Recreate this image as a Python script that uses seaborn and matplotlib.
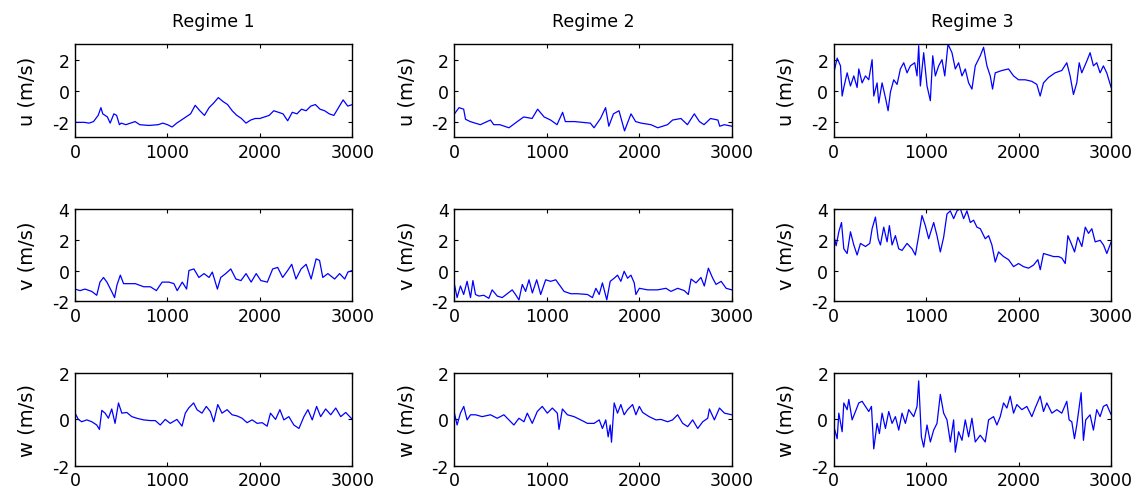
import numpy as np
import pandas as pd
import matplotlib
matplotlib.use("Agg")
import matplotlib.pyplot as plt
import seaborn as sns

regimes = ["Regime 1", "Regime 2", "Regime 3"]
components = ["u (m/s)", "v (m/s)", "w (m/s)"]
y_limits = [(-3, 3), (-2, 4), (-2, 2)]
y_ticks = [[-2, 0, 2], [-2, 0, 2, 4], [-2, 0, 2]]
x_ticks = [0, 1000, 2000, 3000]

# ---- u, regime 1
u1_t = [0, 100, 150, 200, 250, 280, 300, 350, 380, 400, 420, 450, 480, 500, 550, 600, 650, 700, 800, 900, 950,
        1000, 1050, 1100, 1150, 1200, 1250, 1300, 1350, 1400, 1450, 1500, 1550, 1600, 1650, 1700, 1750, 1800,
        1850, 1900, 1950, 2000, 2050, 2100, 2150, 2200, 2250, 2300, 2350, 2400, 2450, 2500, 2550, 2600, 2650,
        2700, 2750, 2800, 2850, 2900, 2950, 3000]
u1_v = [-2.05, -2.05, -2.1, -2.0, -1.6, -1.1, -1.5, -1.7, -2.1, -1.8, -1.5, -1.6, -2.2, -2.1, -2.2, -2.1, -2.0,
        -2.2, -2.25, -2.2, -2.1, -2.2, -2.35, -2.1, -1.9, -1.7, -1.5, -0.95, -1.3, -1.6, -1.1, -0.8, -0.45,
        -0.7, -0.9, -1.3, -1.6, -1.8, -2.1, -1.9, -1.8, -1.8, -1.7, -1.6, -1.3, -1.4, -1.5, -1.95, -1.4, -1.5,
        -1.2, -1.3, -1.0, -0.9, -1.2, -1.3, -1.5, -1.6, -1.1, -0.6, -1.0, -0.9]

# ---- u, regime 2
u2_t = [0, 50, 100, 120, 170, 280, 390, 425, 490, 590, 680, 750, 840, 900, 970, 1040, 1110, 1170, 1200, 1300,
        1470, 1510, 1580, 1635, 1670, 1720, 1780, 1840, 1910, 1960, 2020, 2125, 2200, 2305, 2360, 2450, 2520,
        2595, 2650, 2700, 2770, 2850, 2870, 2920, 3000]
u2_v = [-1.5, -1.1, -1.2, -1.85, -2.0, -2.2, -1.9, -2.2, -2.2, -2.4, -2.0, -1.7, -1.8, -1.2, -1.7, -1.9, -2.2,
        -1.4, -2.0, -2.0, -2.1, -2.4, -1.8, -1.1, -2.3, -1.5, -1.3, -2.6, -1.5, -2.0, -2.1, -2.2, -2.4, -2.2,
        -1.9, -1.8, -2.2, -1.5, -2.0, -2.2, -1.8, -1.9, -2.3, -2.2, -2.3]

# ---- u, regime 3
u3_t = [0, 36, 72, 90, 108, 144, 180, 216, 252, 270, 306, 342, 378, 414, 432, 468, 486, 522, 558, 587, 612, 648,
        684, 720, 756, 792, 828, 875, 900, 918, 936, 972, 1008, 1044, 1070, 1098, 1134, 1170, 1200, 1235, 1278,
        1314, 1350, 1386, 1422, 1458, 1494, 1530, 1584, 1620, 1656, 1692, 1717, 1746, 1818, 1890, 1944, 1998,
        2070, 2142, 2196, 2232, 2268, 2322, 2394, 2466, 2520, 2556, 2592, 2628, 2654, 2682, 2736, 2772, 2808,
        2844, 2880, 2916, 2952, 3000]
u3_v = [1.15, 2.1, 1.6, -0.35, 0.2, 1.15, 0.3, 0.95, 0.2, 1.4, 0.5, 0.95, 0.7, 2.0, -0.35, 0.5, -0.8, 0.5,
        -0.45, -1.3, -0.1, 0.7, 0.4, 1.4, 1.8, 1.15, 1.6, 1.8, 0.95, 2.9, 0.3, 2.45, 0.3, -0.65, 2.25, 0.95, 1.6,
        2.0, 0.95, 3.0, 2.45, 1.4, 1.8, 0.95, 1.4, 0.5, 0.1, 1.6, 2.25, 2.8, 1.6, 0.95, 0.1, 1.15, 1.3, 1.4,
        0.95, 0.7, 0.7, 0.6, 0.4, -0.35, 0.5, 0.85, 1.15, 1.3, 1.8, 0.95, -0.25, 0.5, 1.8, 1.15, 1.9, 2.45, 1.6,
        1.8, 1.15, 1.6, 1.15, 0.2]

# ---- v, regime 1
v1_t = [0, 54, 108, 180, 235, 270, 308, 345, 400, 428, 453, 490, 525, 580, 652, 743, 815, 880, 942, 1015, 1070,
        1105, 1160, 1207, 1232, 1286, 1340, 1395, 1450, 1485, 1540, 1576, 1630, 1685, 1740, 1795, 1850, 1905,
        1960, 2010, 2080, 2138, 2192, 2246, 2300, 2344, 2390, 2445, 2500, 2554, 2608, 2645, 2680, 2735, 2808,
        2862, 2917, 2952, 3000]
v1_v = [-1.2, -1.3, -1.2, -1.35, -1.6, -0.75, -0.45, -0.75, -1.4, -1.75, -0.95, -0.3, -0.85, -0.85, -0.85,
        -1.05, -1.05, -1.3, -0.75, -0.75, -0.85, -1.3, -0.75, -1.2, 0.0, 0.1, -0.45, -0.2, -0.45, -0.1, -1.2,
        -0.45, -0.2, 0.1, -0.55, -0.65, -0.2, -0.75, -0.2, -0.65, -0.75, 0.1, 0.2, -0.45, 0.0, 0.4, -0.55, 0.1,
        0.4, -0.55, 0.75, 0.65, -0.45, -0.2, -0.55, -0.2, -0.55, -0.1, 0.0]

# ---- v, regime 2
v2_t = [0, 29, 65, 100, 137, 174, 200, 228, 264, 318, 372, 408, 463, 517, 571, 625, 661, 698, 734, 770, 807, 843,
        890, 933, 987, 1041, 1096, 1132, 1186, 1258, 1330, 1439, 1493, 1530, 1566, 1601, 1648, 1685, 1728, 1764,
        1800, 1836, 1873, 1909, 1945, 1963, 2000, 2090, 2198, 2288, 2342, 2415, 2487, 2530, 2560, 2613, 2667,
        2703, 2747, 2794, 2830, 2885, 2939, 3000]
v2_v = [-0.9, -1.75, -1.0, -1.55, -0.7, -1.75, -0.65, -1.55, -1.65, -1.6, -1.8, -1.25, -1.65, -1.75, -1.5,
        -1.25, -1.55, -1.9, -0.9, -1.35, -0.6, -1.45, -0.6, -1.55, -0.6, -0.7, -0.6, -0.9, -1.35, -1.5, -1.5,
        -1.55, -1.75, -1.15, -1.55, -0.8, -1.9, -0.7, -0.5, -0.3, -0.7, -0.05, -0.5, -0.3, -0.8, -1.55, -1.15,
        -1.25, -1.25, -1.15, -1.35, -1.15, -1.3, -1.55, -0.55, -0.8, -0.45, -1.0, 0.15, -0.5, -0.9, -0.7, -1.15,
        -1.25]

# ---- v, regime 3
v3_t = [0, 25, 54, 83, 108, 144, 180, 216, 252, 288, 342, 389, 414, 450, 480, 504, 540, 576, 601, 630, 666, 702,
        738, 792, 846, 882, 918, 954, 990, 1026, 1080, 1116, 1152, 1188, 1224, 1260, 1296, 1332, 1368, 1404,
        1440, 1476, 1512, 1548, 1584, 1638, 1674, 1710, 1746, 1782, 1836, 1890, 1944, 1998, 2052, 2106, 2160,
        2207, 2233, 2268, 2323, 2377, 2431, 2467, 2503, 2532, 2568, 2604, 2640, 2683, 2720, 2755, 2791, 2827,
        2881, 2917, 2953, 3000]
v3_v = [2.25, 1.6, 2.5, 3.1, 1.4, 1.1, 2.5, 1.65, 1.0, 1.75, 1.55, 1.75, 2.7, 3.45, 2.05, 1.65, 2.8, 1.85, 2.9,
        1.65, 2.25, 1.4, 1.3, 1.75, 1.4, 1.0, 2.25, 3.55, 2.9, 2.05, 3.1, 2.25, 1.2, 2.15, 3.65, 3.85, 3.35,
        3.85, 4.0, 3.35, 3.85, 3.1, 3.25, 2.8, 2.7, 2.05, 2.25, 1.65, 0.55, 1.2, 0.9, 0.7, 0.25, 0.45, 0.25,
        0.15, 0.35, 0.7, 0.05, 1.1, 1.0, 0.9, 0.9, 0.8, 0.45, 2.25, 1.75, 1.2, 2.15, 1.55, 2.8, 2.4, 2.7, 1.85,
        1.95, 1.65, 1.1, 1.85]

# ---- w, regime 1
w1_t = [0, 36, 72, 127, 181, 235, 264, 290, 325, 361, 397, 433, 470, 506, 560, 614, 669, 741, 813, 868, 922, 976,
        1030, 1102, 1157, 1193, 1229, 1283, 1319, 1373, 1420, 1464, 1500, 1544, 1590, 1645, 1699, 1753, 1807,
        1861, 1916, 1970, 2024, 2078, 2114, 2169, 2216, 2259, 2313, 2367, 2422, 2476, 2519, 2566, 2613, 2657,
        2711, 2766, 2820, 2874, 2928, 3000]
w1_v = [0.27, 0.0, -0.1, -0.02, -0.1, -0.24, -0.43, 0.39, 0.27, 0.05, 0.45, -0.17, 0.71, 0.27, 0.3, 0.12, 0.05,
        -0.02, -0.05, -0.05, -0.24, 0.0, -0.17, 0.0, -0.29, 0.27, 0.49, 0.71, 0.42, 0.27, 0.56, 0.34, -0.1,
        0.64, 0.27, 0.42, 0.2, 0.15, 0.05, -0.14, -0.02, -0.17, -0.14, -0.29, 0.27, 0.0, 0.42, -0.02, 0.12,
        -0.24, -0.39, 0.12, 0.42, -0.02, 0.56, 0.12, 0.45, 0.2, 0.49, 0.12, 0.3, 0.0]

# ---- w, regime 2
w2_t = [0, 29, 65, 101, 137, 174, 228, 300, 390, 463, 535, 589, 643, 698, 752, 788, 842, 896, 950, 1005, 1059,
        1113, 1131, 1168, 1222, 1294, 1366, 1439, 1511, 1566, 1601, 1637, 1663, 1685, 1699, 1728, 1764, 1800,
        1836, 1873, 1927, 1963, 2000, 2036, 2106, 2180, 2234, 2306, 2360, 2414, 2469, 2523, 2577, 2632, 2686,
        2740, 2758, 2812, 2867, 2921, 3000]
w2_v = [0.27, -0.24, 0.27, 0.56, -0.02, 0.2, 0.2, 0.12, 0.2, 0.05, 0.2, -0.02, -0.24, 0.05, -0.1, 0.27, -0.17,
        0.34, 0.56, 0.27, 0.49, 0.27, -0.43, 0.45, 0.2, 0.12, -0.02, -0.17, -0.17, -0.02, -0.39, -0.02, -0.75,
        -0.24, -0.98, 0.71, 0.27, 0.64, 0.2, 0.42, 0.64, 0.2, 0.56, 0.3, 0.12, -0.02, 0.0, -0.1, -0.02, 0.2,
        -0.17, -0.31, -0.02, -0.39, -0.1, 0.05, 0.45, -0.02, 0.49, 0.27, 0.2]

# ---- w, regime 3
w3_t = [0, 36, 54, 90, 108, 144, 162, 198, 234, 270, 306, 342, 378, 407, 432, 468, 493, 522, 558, 594, 630, 666,
        702, 738, 774, 810, 864, 900, 918, 947, 972, 1008, 1044, 1080, 1116, 1152, 1188, 1224, 1260, 1296, 1314,
        1350, 1386, 1422, 1458, 1494, 1530, 1584, 1638, 1674, 1728, 1764, 1800, 1836, 1872, 1908, 1944, 1980,
        2034, 2088, 2142, 2178, 2232, 2268, 2304, 2358, 2412, 2466, 2520, 2545, 2574, 2603, 2628, 2675, 2700,
        2725, 2772, 2808, 2844, 2880, 2916, 2952, 3000]
w3_v = [-0.31, -0.83, 0.27, -0.53, 0.71, 0.42, 0.86, -0.02, 0.34, 0.71, 0.78, 0.56, 0.34, 0.56, -1.27, -0.17,
        -0.61, 0.27, -0.39, 0.34, -0.17, 0.12, -0.46, 0.27, -0.17, 0.42, 0.12, 0.56, 1.66, -0.75, -1.19, -0.24,
        -0.97, -0.46, -0.17, 1.08, 0.27, -0.02, -0.97, -0.02, -1.41, -0.53, -0.9, -0.02, -0.75, 0.05, -0.97,
        -0.68, -0.97, -0.02, 0.12, -0.24, 0.12, 0.71, 0.49, 1.0, 0.27, 0.64, 0.42, 0.56, 0.12, 0.49, 1.0, 0.34,
        0.71, 0.27, 0.42, 0.27, 0.78, -0.02, -0.1, -0.83, -0.24, 1.15, -0.9, -0.02, 0.2, -0.46, 0.42, 0.12,
        0.56, 0.64, 0.2]

series = [
    [(u1_t, u1_v), (u2_t, u2_v), (u3_t, u3_v)],
    [(v1_t, v1_v), (v2_t, v2_v), (v3_t, v3_v)],
    [(w1_t, w1_v), (w2_t, w2_v), (w3_t, w3_v)],
]

sns.set_style("ticks")
plt.rcParams["font.family"] = ["DejaVu Sans"]
plt.rcParams["axes.unicode_minus"] = False
plt.rcParams["text.color"] = "black"
plt.rcParams["axes.labelcolor"] = "black"

fig, axes = plt.subplots(3, 3, figsize=(11.42, 5.02), dpi=100)
fig.subplots_adjust(left=0.0657, right=0.973, top=0.910, bottom=0.070, wspace=0.368, hspace=0.77)

for r in range(3):
    for c in range(3):
        ax = axes[r, c]
        t, v = series[r][c]
        df = pd.DataFrame({"t": t, "val": v})
        sns.lineplot(data=df, x="t", y="val", ax=ax, color="#0000ff", linewidth=0.9,
                     estimator=None)
        ax.set_xlim(0, 3000)
        ax.set_ylim(*y_limits[r])
        ax.set_xticks(x_ticks)
        ax.set_yticks(y_ticks[r])
        ax.set_xlabel("")
        ax.set_ylabel(components[r], fontsize=14, labelpad=11, color="black")
        ax.tick_params(direction="in", top=True, right=True, length=3, width=0.8,
                       labelsize=12.5, pad=4, colors="black")
        for s in ax.spines.values():
            s.set_visible(True)
            s.set_linewidth(1.0)
            s.set_color("black")
        if r == 0:
            ax.set_title(regimes[c], fontsize=12.5, pad=13, color="black")

fig.savefig("out.png", dpi=100)
